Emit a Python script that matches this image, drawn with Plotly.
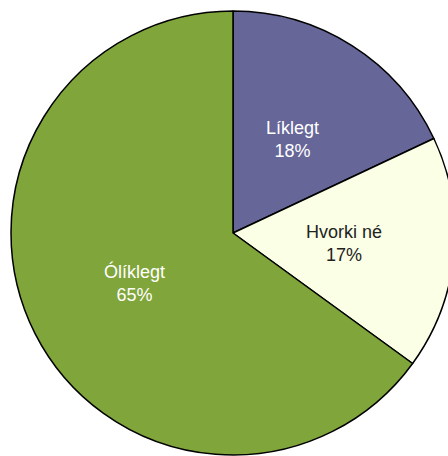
import math
import plotly.graph_objects as go

labels = ["Líklegt", "Hvorki né", "Ólíklegt"]
values = [18, 17, 65]
colors = ["#666699", "#FAFFE6", "#7FA53B"]
text_colors = ["#FFFFFF", "#222222", "#FFFFFF"]

fig = go.Figure(go.Pie(
    labels=labels,
    values=values,
    sort=False,
    direction="clockwise",
    rotation=0,
    marker=dict(colors=colors, line=dict(color="#000000", width=1.5)),
    textinfo="none",
    showlegend=False,
    hoverinfo="skip",
))

# Data labels at mid-angle, half radius (computed from the values)
total = sum(values)
cum = 0
for lab, v, tc in zip(labels, values, text_colors):
    mid = (cum + v / 2) / total * 2 * math.pi
    cum += v
    fig.add_annotation(
        x=0.5 + 0.25 * math.sin(mid),
        y=0.5 + 0.25 * math.cos(mid),
        xref="paper", yref="paper",
        text=f"{lab}<br>{round(v / total * 100)}%",
        showarrow=False,
        font=dict(family="Liberation Sans, Arial", size=18, color=tc),
        xanchor="center", yanchor="middle",
    )

fig.update_layout(
    width=466, height=466,
    margin=dict(l=11, r=11, t=11, b=11),
    paper_bgcolor="white",
    plot_bgcolor="white",
)

fig.write_html(
    "out.html",
    config={"displayModeBar": False},
    post_script="document.body.style.margin='0';document.body.style.overflow='hidden';document.documentElement.style.overflow='hidden';",
)
